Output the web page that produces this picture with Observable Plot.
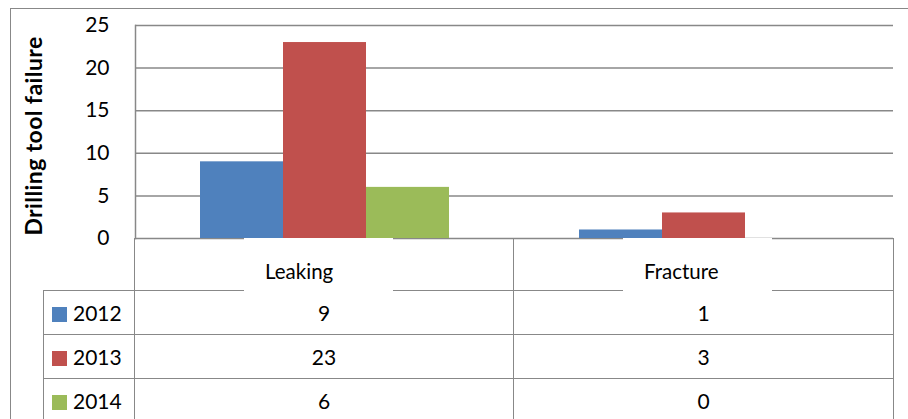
<!DOCTYPE html>
<html>
<head>
<meta charset="utf-8">
<script src="https://cdn.jsdelivr.net/npm/d3@7"></script>
<script src="https://cdn.jsdelivr.net/npm/@observablehq/plot@0.6"></script>
<style>
  html, body { margin: 0; padding: 0; background: #fff; }
  #wrap { position: relative; width: 908px; height: 419px; overflow: hidden; background: #fff;
          font-family: Lato, "Open Sans", sans-serif; color: #000; }
  #outer { position: absolute; left: 10px; top: 8px; right: -2px; bottom: -2px;
           border-top: 1.5px solid #888; border-left: 1.5px solid #888; }
  #chart { position: absolute; left: 0; top: 0; }
  #tbl { position: absolute; left: 43px; top: 238px; border-collapse: collapse; table-layout: fixed; }
  #tbl td { padding: 0; border: 1.5px solid #888; text-align: center; font-size: 21px; }
  #tbl tr.head td { height: 51px; }
  #tbl tr.head td.blank { border-left: none; border-top: none; }
  #tbl tr.row td { height: 43px; }
  #tbl td.hdr { position: relative; }
  #tbl td.hdr div { position: absolute; left: 109px; width: 149px; top: -1px; bottom: -2px; background: #fff;
                    box-sizing: border-box; text-align: left; padding-left: 21px; padding-top: 23px;
                    font-size: 20.5px; line-height: 20px; }
  #tbl td.leg { text-align: left; white-space: nowrap; }
  #tbl td.leg i { display: inline-block; width: 15px; height: 15px; margin: 0 6px 0 8px; vertical-align: -1px; }
  #chart text.ytitle { letter-spacing: 0.4px; }
</style>
</head>
<body>
<div id="wrap">
  <div id="outer"></div>
  <div id="chart"></div>
  <table id="tbl"></table>
</div>
<script>
const categories = ["Leaking", "Fracture"];
const years = ["2012", "2013", "2014"];
const values2012 = [9, 1];
const values2013 = [23, 3];
const values2014 = [6, 0];
const colors = ["#4F81BD", "#C0504D", "#9BBB59"];
const yTicks = [0, 5, 10, 15, 20, 25];
const yTitle = "Drilling tool failure";

const series = [values2012, values2013, values2014];
const rows = years.flatMap((yr, i) => categories.map((c, j) => ({cat: c, year: yr, value: series[i][j]})));

const chart = Plot.plot({
  width: 908,
  height: 419,
  marginTop: 25,
  marginBottom: 181,
  marginLeft: 134,
  marginRight: 15,
  style: {background: "transparent", fontFamily: "Lato, 'Open Sans', sans-serif", color: "#000"},
  fx: {domain: categories, padding: 0, axis: null},
  x: {domain: years, paddingInner: 0, paddingOuter: 0.756, axis: null},
  y: {domain: [0, 25], axis: null},
  color: {domain: years, range: colors},
  marks: [
    Plot.ruleY(yTicks, {stroke: "#888", strokeWidth: 1.5, strokeOpacity: 1}),
    Plot.barY(rows, {fx: "cat", x: "year", y: "value", fill: "year"}),
    Plot.frame({anchor: "left", stroke: "#888", strokeWidth: 1.5, facetAnchor: "left"}),
    Plot.axisY({ticks: yTicks, tickSize: 0, tickPadding: 26, fontSize: 21, label: null, facetAnchor: "left"}),
    Plot.text([yTitle], {text: d => d, frameAnchor: "left", textAnchor: "middle", rotate: -90, dx: -101, dy: 4,
      fontSize: 23, fontWeight: "bold", facetAnchor: "left", className: "ytitle"})
  ]
});
document.getElementById("chart").appendChild(chart);
chart.querySelectorAll("g.ytitle text, text.ytitle").forEach(t => t.style.letterSpacing = "0.4px");

// data table below the chart
const tbl = document.getElementById("tbl");
const colW = [91, 379, 380];
let html = "<colgroup>" + colW.map(w => `<col style="width:${w}px">`).join("") + "</colgroup>";
html += `<tr class="head"><td class="blank"></td>` + categories.map(c => `<td class="hdr"><div>${c}</div></td>`).join("") + "</tr>";
years.forEach((yr, i) => {
  html += `<tr class="row"><td class="leg"><i style="background:${colors[i]}"></i>${yr}</td>` +
    series[i].map(v => `<td>${v}</td>`).join("") + "</tr>";
});
tbl.innerHTML = html;
</script>
</body>
</html>
